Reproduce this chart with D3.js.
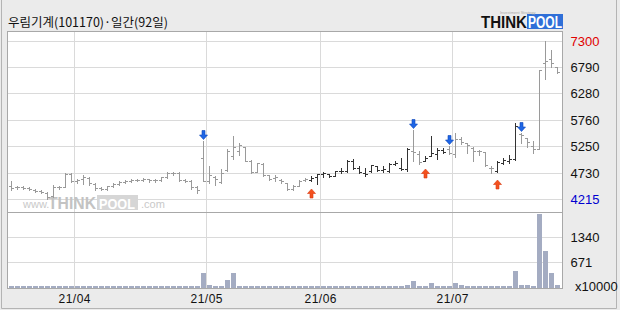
<!DOCTYPE html>
<html><head><meta charset="utf-8">
<script src="https://cdn.jsdelivr.net/npm/d3@7"></script>
<style>html,body{margin:0;padding:0;background:#ebebeb;}svg{display:block}</style>
</head><body><svg id="c" width="620" height="310"></svg>
<script>
const title = "우림기계(101170)·일간(92일)";
const dates = [
"2021-03-17","2021-03-18","2021-03-19","2021-03-22","2021-03-23","2021-03-24","2021-03-25","2021-03-26","2021-03-29","2021-03-30","2021-03-31",
"2021-04-01","2021-04-02","2021-04-05","2021-04-06","2021-04-07","2021-04-08","2021-04-09","2021-04-12","2021-04-13","2021-04-14","2021-04-15","2021-04-16","2021-04-19","2021-04-20","2021-04-21","2021-04-22","2021-04-23","2021-04-26","2021-04-27","2021-04-28","2021-04-29","2021-04-30",
"2021-05-03","2021-05-04","2021-05-06","2021-05-07","2021-05-10","2021-05-11","2021-05-12","2021-05-13","2021-05-14","2021-05-17","2021-05-18","2021-05-20","2021-05-21","2021-05-24","2021-05-25","2021-05-26","2021-05-27","2021-05-28","2021-05-31",
"2021-06-01","2021-06-02","2021-06-03","2021-06-04","2021-06-07","2021-06-08","2021-06-09","2021-06-10","2021-06-11","2021-06-14","2021-06-15","2021-06-16","2021-06-17","2021-06-18","2021-06-21","2021-06-22","2021-06-23","2021-06-24","2021-06-25","2021-06-28","2021-06-29","2021-06-30",
"2021-07-01","2021-07-02","2021-07-05","2021-07-06","2021-07-07","2021-07-08","2021-07-09","2021-07-12","2021-07-13","2021-07-14","2021-07-15","2021-07-16","2021-07-19","2021-07-20","2021-07-21","2021-07-22","2021-07-23","2021-07-26"];
const open = [4470,4440,4440,4430,4400,4380,4340,4270,4440,4450,4700,4560,4600,4630,4500,4430,4410,4460,4500,4540,4560,4580,4590,4600,4580,4580,4640,4730,4720,4580,4560,4440,
5010,4560,4640,4550,4780,5050,5150,5240,4950,4740,4900,4680,4620,4590,4520,4420,4470,4580,4580,4640,4700,4700,4670,4760,4760,4950,4820,4720,4760,4850,4790,4770,4900,4820,
4800,5150,5100,4960,5060,5100,5170,5200,5100,5380,5300,5220,5160,5140,4830,4760,4920,4960,4990,5480,5400,5250,5200,6870,6950,6790];
const high = [4560,4460,4460,4440,4420,4390,4350,4480,4470,4720,4720,4600,4680,4640,4520,4450,4470,4530,4560,4580,4600,4610,4620,4610,4600,4650,4740,4750,4740,4610,4580,4460,
5340,4850,4655,4805,5200,5440,5310,5240,4980,4920,4920,4690,4690,4600,4530,4490,4590,4620,4660,4710,4750,4710,4770,4820,4980,4990,4850,4820,4880,4860,4850,4920,4960,5010,
5210,5570,5145,5050,5450,5210,5210,5250,5510,5420,5310,5230,5175,5140,4850,4950,5015,5080,5690,5500,5400,5340,6740,7300,7125,6790];
const low = [4400,4420,4410,4390,4360,4330,4215,4250,4420,4440,4540,4530,4500,4490,4400,4390,4400,4440,4480,4520,4540,4560,4560,4550,4550,4560,4620,4690,4560,4540,4420,4340,
4560,4530,4493,4530,4760,4990,5080,4950,4720,4733,4660,4590,4560,4530,4400,4400,4460,4560,4560,4510,4640,4640,4660,4730,4750,4800,4720,4670,4750,4770,4750,4750,4880,4790,
4770,4950,4900,4950,5050,4990,5110,5100,5030,5280,5120,4950,5080,4850,4730,4740,4900,4920,4970,5306,5240,5110,5190,6560,6790,6680];
const close = [4430,4440,4430,4410,4380,4350,4260,4450,4450,4710,4560,4580,4650,4520,4430,4410,4460,4500,4540,4560,4580,4590,4600,4580,4580,4640,4730,4720,4580,4560,4440,4400,
4570,4690,4600,4720,5150,5240,5270,4960,4740,4910,4680,4610,4640,4560,4420,4470,4570,4600,4630,4700,4720,4660,4760,4760,4960,4830,4740,4700,4870,4790,4810,4900,4920,4810,
5200,5130,4940,5010,5110,5170,5140,5110,5380,5330,5260,5160,5150,4870,4820,4940,4970,4990,5650,5460,5330,5190,6740,6900,6880,6700];
const volume = [35,30,32,28,30,34,40,30,28,36,32,30,28,30,33,30,28,30,32,30,29,31,30,28,30,32,34,30,30,29,31,30,
380,70,30,30,190,380,50,45,30,30,30,30,30,30,30,30,30,30,30,30,30,30,30,30,30,30,30,30,30,30,30,30,30,30,
70,165,30,30,110,35,30,30,110,60,30,30,30,30,30,30,30,30,440,80,60,40,1960,970,380,60];
const buyDates = ["2021-05-28","2021-06-24","2021-07-12"];
const sellDates = ["2021-04-30","2021-06-22","2021-06-30","2021-07-16"];
const priceTicks = [7300,6790,6280,5760,5250,4730,4215];
const volumeTicks = [1340,671];
const volumeUnit = "x10000";
const monthStarts = ["2021-04-01","2021-05-03","2021-06-01","2021-07-01"];
const monthLabels = ["21/04","21/05","21/06","21/07"];

const svg = d3.select("#c");
const L = 7.5, R = 562.5, T = 31.5, B = 288.5, SEP = 212.5;
const x = d3.scaleBand().domain(dates).range([8.5, 560.5]);
const y = d3.scaleLinear().domain([4215, 7300]).range([199.5, 41.5]);
const yv = d3.scaleLinear().domain([0, 1340]).range([287.5, 237.5]);
const cx = d => Math.round(x(d) + x.bandwidth()/2 - 0.5) + 0.5;
const py = v => Math.round(y(v) - 0.5) + 0.5;
const font = "'Liberation Sans Narrow','Liberation Sans',Arial,sans-serif";

// outer frame
svg.append("rect").attr("x",0).attr("y",0).attr("width",620).attr("height",310).attr("fill","#ebebeb");
svg.append("path").attr("d","M1.5,0V308.5H616.5V0").attr("fill","none").attr("stroke","#b4b4b4");
// plot background
svg.append("rect").attr("x",L).attr("y",T).attr("width",R-L).attr("height",B-T).attr("fill","#fff");

// grid
const g = svg.append("g");
g.selectAll(".hg").data(priceTicks).join("line")
  .attr("x1",L).attr("x2",R).attr("y1",d=>py(d)).attr("y2",d=>py(d)).attr("stroke","#dadada");
g.selectAll(".vg").data(volumeTicks).join("line")
  .attr("x1",L).attr("x2",R).attr("y1",d=>Math.round(yv(d)-0.5)+0.5).attr("y2",d=>Math.round(yv(d)-0.5)+0.5).attr("stroke","#dadada");
g.selectAll(".mg").data(monthStarts).join("line")
  .attr("x1",d=>x(d)).attr("x2",d=>x(d)).attr("y1",T).attr("y2",B).attr("stroke","#dadada");

// watermark
const wm = svg.append("g").attr("font-family","'Liberation Sans',Arial,sans-serif");
wm.append("text").attr("x",23).attr("y",208).attr("font-size",11).attr("fill","#c9c9c9").text("www.");
wm.append("text").attr("x",48).attr("y",209).attr("font-size",17).attr("font-weight","bold").attr("fill","#c3c3c3").attr("textLength",48).attr("lengthAdjust","spacingAndGlyphs").text("THINK");
wm.append("rect").attr("x",97).attr("y",195).attr("width",41).attr("height",15).attr("fill","#d6d6d6");
wm.append("text").attr("x",99).attr("y",208.5).attr("font-size",15).attr("font-weight","bold").attr("fill","#fff").attr("textLength",36).attr("lengthAdjust","spacingAndGlyphs").text("POOL");
wm.append("text").attr("x",141).attr("y",208).attr("font-size",11).attr("fill","#c9c9c9").text(".com");

// volume bars
svg.append("g").attr("shape-rendering","crispEdges").selectAll("rect").data(dates).join("rect")
  .attr("x",d=>Math.round(x(d)+0.5)).attr("width",5)
  .attr("y",(d,i)=>Math.min(Math.round(yv(volume[i])),287))
  .attr("height",(d,i)=>288-Math.min(Math.round(yv(volume[i])),287))
  .attr("fill","#a4acc2");

// tone per bar from signals
let state = false;
const tone = dates.map(d => { if (buyDates.includes(d)) state = true; if (sellDates.includes(d)) state = false; return state ? "#333" : "#9a9a9a"; });

// OHLC bars
const bars = svg.append("g").attr("shape-rendering","crispEdges");
dates.forEach((d,i) => {
  const c = cx(d);
  const gb = bars.append("g").attr("stroke", tone[i]).attr("stroke-width",1);
  gb.append("line").attr("x1",c).attr("x2",c).attr("y1",py(high[i])-0.5).attr("y2",py(low[i])+0.5);
  gb.append("line").attr("x1",c-2.5).attr("x2",c).attr("y1",py(open[i])).attr("y2",py(open[i]));
  gb.append("line").attr("x1",c).attr("x2",c+2.5).attr("y1",py(close[i])).attr("y2",py(close[i]));
});

// signal arrows
const ar = svg.append("g");
sellDates.forEach(d => {
  const i = dates.indexOf(d), c = x(d) + x.bandwidth()/2, tip = py(high[i]) - 2;
  ar.append("path").attr("d",`M${c-1.5},${tip-9}h3v4.5h2.5l-4,4.5l-4,-4.5h2.5z`).attr("fill","#1f66e6").attr("stroke","#0d47b8").attr("stroke-width",0.6);
});
buyDates.forEach(d => {
  const i = dates.indexOf(d), c = x(d) + x.bandwidth()/2, tip = py(low[i]) + 7.5;
  ar.append("path").attr("d",`M${c},${tip}l4,4.5h-2.5v4.5h-3v-4.5h-2.5z`).attr("fill","#f4511e").attr("stroke","#d83a10").attr("stroke-width",0.6);
});

// frame
svg.append("rect").attr("x",L).attr("y",T).attr("width",R-L).attr("height",B-T).attr("fill","none").attr("stroke","#a8a8a8");
svg.append("line").attr("x1",L).attr("x2",R).attr("y1",SEP).attr("y2",SEP).attr("stroke","#a8a8a8");

// right price axis
const pa = svg.append("g").attr("transform",`translate(${R},0)`)
  .call(d3.axisRight(y).tickValues(priceTicks).tickSize(0).tickPadding(8).tickFormat(d3.format("d")));
pa.select(".domain").remove();
pa.selectAll("text").attr("font-family",font).attr("font-size",13)
  .attr("fill",d => d===7300 ? "#e00000" : d===4215 ? "#0000d0" : "#111");
const va = svg.append("g").attr("transform",`translate(${R},0)`)
  .call(d3.axisRight(yv).tickValues(volumeTicks).tickSize(0).tickPadding(8).tickFormat(d3.format("d")));
va.select(".domain").remove();
va.selectAll("text").attr("font-family",font).attr("font-size",13).attr("fill","#111");
svg.append("text").attr("x",575).attr("y",291).attr("font-family",font).attr("font-size",13).attr("fill","#111").text(volumeUnit);

// bottom month axis
const xa = svg.append("g").attr("transform",`translate(${-x.bandwidth()/2},${B})`)
  .call(d3.axisBottom(x).tickValues(monthStarts).tickSize(0).tickPadding(6).tickFormat(d => monthLabels[monthStarts.indexOf(d)]));
xa.select(".domain").remove();
xa.selectAll("text").attr("font-family","'Liberation Sans',Arial,sans-serif").attr("font-size",12).attr("fill","#111")
  .attr("textLength",32).attr("lengthAdjust","spacing");

// title
svg.append("text").attr("x",8).attr("y",27).attr("font-family","'Noto Sans CJK KR',sans-serif").attr("font-size",12.5).attr("fill","#111").text(title);

// logo
const lg = svg.append("g").attr("font-family","'Liberation Sans',Arial,sans-serif").attr("font-weight","bold");
lg.append("text").attr("x",481).attr("y",28).attr("font-size",16).attr("fill","#111").attr("textLength",46).attr("lengthAdjust","spacingAndGlyphs").text("THINK");
lg.append("rect").attr("x",527).attr("y",14).attr("width",36).attr("height",15).attr("fill","#2f6fd8");
lg.append("text").attr("x",528).attr("y",28).attr("font-size",16).attr("fill","#fff").attr("textLength",34).attr("lengthAdjust","spacingAndGlyphs").text("POOL");
lg.append("text").attr("x",500).attr("y",14).attr("font-size",4).attr("font-weight","normal").attr("fill","#aaa").text("Investment Strategy");
</script></body></html>
